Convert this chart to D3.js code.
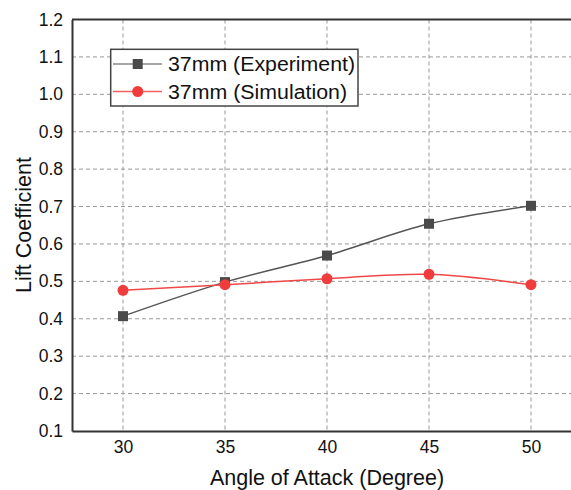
<!DOCTYPE html>
<html><head><meta charset="utf-8">
<script src="https://cdn.jsdelivr.net/npm/d3@7"></script>
<style>body{margin:0;background:#fff;} text{font-family:"Liberation Sans",Arial,sans-serif;fill:#111;}</style>
</head><body><svg id="c" width="571" height="490"></svg>
<script>
const angles = [30, 35, 40, 45, 50];
const experiment = [0.407, 0.498, 0.569, 0.654, 0.702];
const simulation = [0.476, 0.491, 0.507, 0.519, 0.491];
const xTicks = [30, 35, 40, 45, 50];
const yTicks = [0.1,0.2,0.3,0.4,0.5,0.6,0.7,0.8,0.9,1.0,1.1,1.2];
const seriesNames = ["37mm (Experiment)", "37mm (Simulation)"];

const svg = d3.select("#c");
const x = d3.scaleLinear().domain([27.5, 52.5]).range([72, 582]);
const y = d3.scaleLinear().domain([0.1, 1.2]).range([431, 19.5]);

// grid
svg.append("g").selectAll("line").data(xTicks).join("line")
  .attr("x1", d=>x(d)).attr("x2", d=>x(d)).attr("y1", y(1.2)).attr("y2", y(0.1))
  .attr("stroke", "#999").attr("stroke-width", 1).attr("stroke-dasharray", "4,3");
svg.append("g").selectAll("line").data(yTicks.filter(d=>d>0.15 && d<1.15)).join("line")
  .attr("x1", x(27.5)).attr("x2", x(52.5)).attr("y1", d=>y(d)).attr("y2", d=>y(d))
  .attr("stroke", "#999").attr("stroke-width", 1).attr("stroke-dasharray", "4,3");

// axes
const xAxis = d3.axisBottom(x).tickValues(xTicks).tickSize(0).tickPadding(10).tickFormat(d3.format("d"));
const gx = svg.append("g").attr("transform", `translate(0,${y(0.1)})`).call(xAxis);
gx.select(".domain").attr("stroke", "#333").attr("stroke-width", 2);
gx.selectAll("text").attr("font-size", 17.5).attr("fill", "#111");

const yAxis = d3.axisLeft(y).tickValues(yTicks).tickSize(0).tickPadding(9).tickFormat(d3.format(".1f"));
const gy = svg.append("g").attr("transform", `translate(${x(27.5)},0)`).call(yAxis);
gy.select(".domain").attr("stroke", "#333").attr("stroke-width", 2);
gy.selectAll("text").attr("font-size", 17.5).attr("fill", "#111");

// top spine
svg.append("line").attr("x1", x(27.5)).attr("x2", x(52.5)).attr("y1", y(1.2)).attr("y2", y(1.2))
  .attr("stroke", "#333").attr("stroke-width", 2);

// lines
const line = d3.line().x((d,i)=>x(angles[i])).y(d=>y(d)).curve(d3.curveCatmullRom.alpha(0.5));
svg.append("path").attr("d", line(experiment)).attr("fill","none").attr("stroke","#555").attr("stroke-width",1.5);
svg.append("path").attr("d", line(simulation)).attr("fill","none").attr("stroke","#f04848").attr("stroke-width",1.5);

const sq = 10;
svg.append("g").selectAll("rect").data(experiment).join("rect")
  .attr("x", (d,i)=>x(angles[i])-sq/2).attr("y", d=>y(d)-sq/2).attr("width", sq).attr("height", sq)
  .attr("fill", "#4a4a4a");
svg.append("g").selectAll("circle").data(simulation).join("circle")
  .attr("cx", (d,i)=>x(angles[i])).attr("cy", d=>y(d)).attr("r", 5.5)
  .attr("fill", "#f03c3c");

// legend
const lg = svg.append("g");
lg.append("rect").attr("x", 110.7).attr("y", 49.3).attr("width", 247.3).attr("height", 56.7)
  .attr("fill", "#fff").attr("stroke", "#444").attr("stroke-width", 1.5);
const rows = [64, 91.5];
lg.append("line").attr("x1",113).attr("x2",162).attr("y1",rows[0]).attr("y2",rows[0]).attr("stroke","#888").attr("stroke-width",1.5);
lg.append("rect").attr("x",137.7-sq/2).attr("y",rows[0]-sq/2).attr("width",sq).attr("height",sq).attr("fill","#4a4a4a");
lg.append("line").attr("x1",113).attr("x2",162).attr("y1",rows[1]).attr("y2",rows[1]).attr("stroke","#f26060").attr("stroke-width",1.5);
lg.append("circle").attr("cx",137.7).attr("cy",rows[1]).attr("r",5.5).attr("fill","#f03c3c");
seriesNames.forEach((n,i)=>{
  lg.append("text").attr("x",168).attr("y",rows[i]).attr("dy","0.35em").attr("font-size",20)
    .attr("textLength", i===0?187:179).attr("lengthAdjust","spacingAndGlyphs").text(n);
});

// titles
svg.append("text").attr("x", x(40)).attr("y", 485).attr("text-anchor","middle").attr("font-size",21.5).text("Angle of Attack (Degree)");
svg.append("text").attr("transform", `translate(31,${225}) rotate(-90)`).attr("text-anchor","middle").attr("font-size",21.5).text("Lift Coefficient");
</script></body></html>
